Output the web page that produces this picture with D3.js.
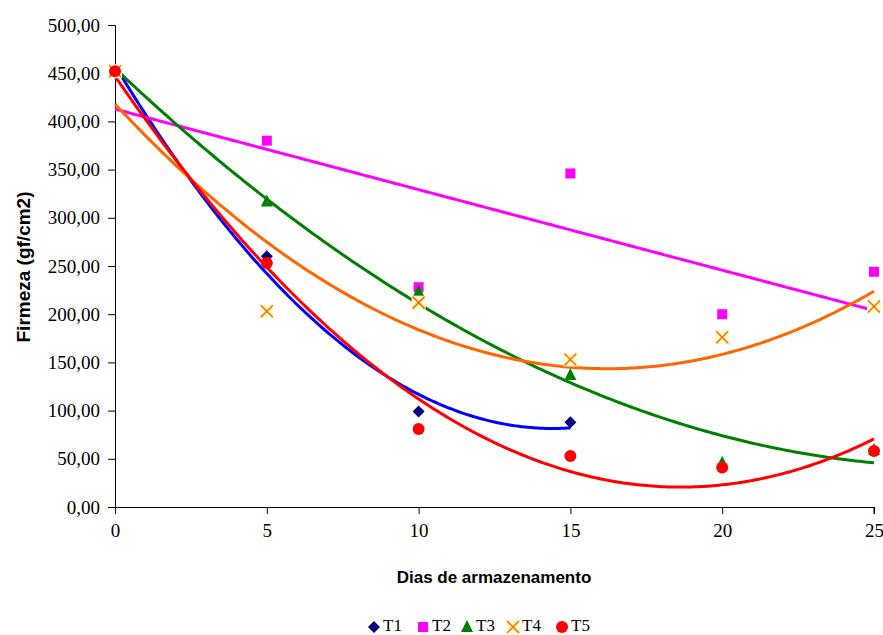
<!DOCTYPE html>
<html>
<head>
<meta charset="utf-8">
<script src="https://cdn.jsdelivr.net/npm/d3@7"></script>
<style>
  html, body { margin: 0; padding: 0; background: #fff; }
  svg { display: block; }
</style>
</head>
<body>
<svg id="chart" width="883" height="635"></svg>
<script>
// Storage days and measured firmness (gf/cm2) per treatment
const days = [0, 5, 10, 15, 20, 25];
const t1 = [452, 260, 99, 88];
const t2 = [452, 380, 228, 346, 200, 244];
const t3 = [452, 317, 223, 137, 46, 59];
const t4 = [452, 203, 212, 153, 176, 208];
const t5 = [452, 253, 81, 53, 41, 58];

const seriesNames = ["T1", "T2", "T3", "T4", "T5"];
const yTicks = [0, 50, 100, 150, 200, 250, 300, 350, 400, 450, 500];
const xTicks = [0, 5, 10, 15, 20, 25];

// Trendline order for each treatment (least-squares polynomial)
const trendOrder = [2, 1, 2, 2, 2];

const series = [
  { name: "T1", values: t1, marker: "diamond", markColor: "#000080", lineColor: "#0000ff" },
  { name: "T2", values: t2, marker: "square", markColor: "#ff00ff", lineColor: "#ff00ff" },
  { name: "T3", values: t3, marker: "triangle", markColor: "#008000", lineColor: "#008000" },
  { name: "T4", values: t4, marker: "x", markColor: "#ff6600", lineColor: "#ff6600" },
  { name: "T5", values: t5, marker: "circle", markColor: "#ff0000", lineColor: "#ff0000" }
];

// Least-squares polynomial fit: returns coefficients c0..cn
function polyfit(xs, ys, order) {
  const n = order + 1;
  const A = Array.from({ length: n }, () => new Array(n + 1).fill(0));
  for (let i = 0; i < xs.length; i++) {
    for (let r = 0; r < n; r++) {
      for (let c = 0; c < n; c++) A[r][c] += Math.pow(xs[i], r + c);
      A[r][n] += ys[i] * Math.pow(xs[i], r);
    }
  }
  for (let p = 0; p < n; p++) {
    let max = p;
    for (let r = p + 1; r < n; r++) if (Math.abs(A[r][p]) > Math.abs(A[max][p])) max = r;
    [A[p], A[max]] = [A[max], A[p]];
    for (let r = p + 1; r < n; r++) {
      const f = A[r][p] / A[p][p];
      for (let c = p; c <= n; c++) A[r][c] -= f * A[p][c];
    }
  }
  const coef = new Array(n).fill(0);
  for (let r = n - 1; r >= 0; r--) {
    let s = A[r][n];
    for (let c = r + 1; c < n; c++) s -= A[r][c] * coef[c];
    coef[r] = s / A[r][r];
  }
  return coef;
}
const polyval = (coef, v) => coef.reduce((s, c, i) => s + c * Math.pow(v, i), 0);

const svg = d3.select("#chart");
const plotLeft = 115, plotRight = 874, plotTop = 25, plotBottom = 507;
const serif = "'Liberation Serif', 'Times New Roman', serif";
const sans = "'Liberation Sans', Arial, sans-serif";

const x = d3.scaleLinear().domain([0, 25]).range([plotLeft, plotRight]);
const y = d3.scaleLinear().domain([0, 500]).range([plotBottom, plotTop]);

const fmt = v => d3.format(".2f")(v).replace(".", ",");

// Y axis
const yAxis = svg.append("g")
  .attr("transform", `translate(${plotLeft},0)`)
  .call(d3.axisLeft(y).tickValues(yTicks).tickFormat(fmt).tickSize(7).tickPadding(8));
yAxis.attr("font-family", null).attr("font-size", null);
yAxis.select(".domain").attr("stroke", "#000").attr("stroke-width", 1);
yAxis.selectAll(".tick line").attr("stroke", "#000");
yAxis.selectAll("text")
  .style("font-family", serif)
  .style("font-size", "19px").attr("fill", "#000");

// X axis
const xAxis = svg.append("g")
  .attr("transform", `translate(0,${plotBottom})`)
  .call(d3.axisBottom(x).tickValues(xTicks).tickFormat(d3.format("d")).tickSize(7).tickPadding(10));
xAxis.attr("font-family", null).attr("font-size", null);
xAxis.select(".domain").attr("stroke", "#000").attr("stroke-width", 1)
  .attr("d", `M${plotLeft - 7},0.5H${plotRight}V7`);
xAxis.selectAll(".tick line").attr("stroke", "#000");
xAxis.selectAll("text")
  .style("font-family", serif)
  .style("font-size", "19px").attr("fill", "#000");

// Axis titles
svg.append("text")
  .attr("x", 494).attr("y", 583)
  .attr("text-anchor", "middle")
  .style("font-family", sans)
  .style("font-weight", "bold").style("font-size", "17px")
  .text("Dias de armazenamento");

svg.append("text")
  .attr("transform", "translate(30,267) rotate(-90)")
  .attr("text-anchor", "middle")
  .style("font-family", sans)
  .style("font-weight", "bold").style("font-size", "19px")
  .text("Firmeza (gf/cm2)");

// Marker drawing
function drawMarker(g, type, color, cx, cy) {
  if (type === "diamond") {
    g.append("path").attr("d", `M${cx},${cy - 6}L${cx + 6},${cy}L${cx},${cy + 6}L${cx - 6},${cy}Z`).attr("fill", color);
  } else if (type === "square") {
    g.append("rect").attr("x", cx - 5).attr("y", cy - 5).attr("width", 10).attr("height", 10).attr("fill", color);
  } else if (type === "triangle") {
    g.append("path").attr("d", `M${cx},${cy - 7}L${cx + 6},${cy + 5}L${cx - 6},${cy + 5}Z`).attr("fill", color);
  } else if (type === "x") {
    g.append("rect").attr("x", cx - 7).attr("y", cy - 7).attr("width", 14).attr("height", 14).attr("fill", "#ffffcc");
    g.append("path").attr("d", `M${cx - 6},${cy - 6}L${cx + 6},${cy + 6}M${cx + 6},${cy - 6}L${cx - 6},${cy + 6}`)
      .attr("stroke", color).attr("stroke-width", 1.5).attr("fill", "none");
  } else if (type === "circle") {
    g.append("circle").attr("cx", cx).attr("cy", cy).attr("r", 6).attr("fill", color);
  }
}

const line = d3.line().x(d => x(d[0])).y(d => y(d[1]));

// Trendlines
const lineLayer = svg.append("g");
series.forEach((s, i) => {
  const xs = days.slice(0, s.values.length);
  const coef = polyfit(xs, s.values, trendOrder[i]);
  const xmax = xs[xs.length - 1];
  const pts = d3.range(0, xmax + 0.001, 0.1).map(v => [v, polyval(coef, v)]);
  lineLayer.append("path")
    .attr("d", line(pts))
    .attr("fill", "none")
    .attr("stroke", s.lineColor)
    .attr("stroke-width", 3)
    .attr("stroke-linejoin", "round");
});

// Data markers
const markLayer = svg.append("g");
series.forEach(s => {
  s.values.forEach((v, j) => drawMarker(markLayer, s.marker, s.markColor, x(days[j]), y(v)));
});

// Legend
const legendPos = [
  { mx: 374, tx: 383 },
  { mx: 423, tx: 432 },
  { mx: 467, tx: 476 },
  { mx: 513, tx: 522 },
  { mx: 562, tx: 571 }
];
const legend = svg.append("g");
series.forEach((s, i) => {
  drawMarker(legend, s.marker, s.markColor, legendPos[i].mx, 627);
  legend.append("text")
    .attr("x", legendPos[i].tx).attr("y", 631)
    .style("font-family", serif)
    .style("font-size", "17px")
    .text(seriesNames[i]);
});
</script>
</body>
</html>
